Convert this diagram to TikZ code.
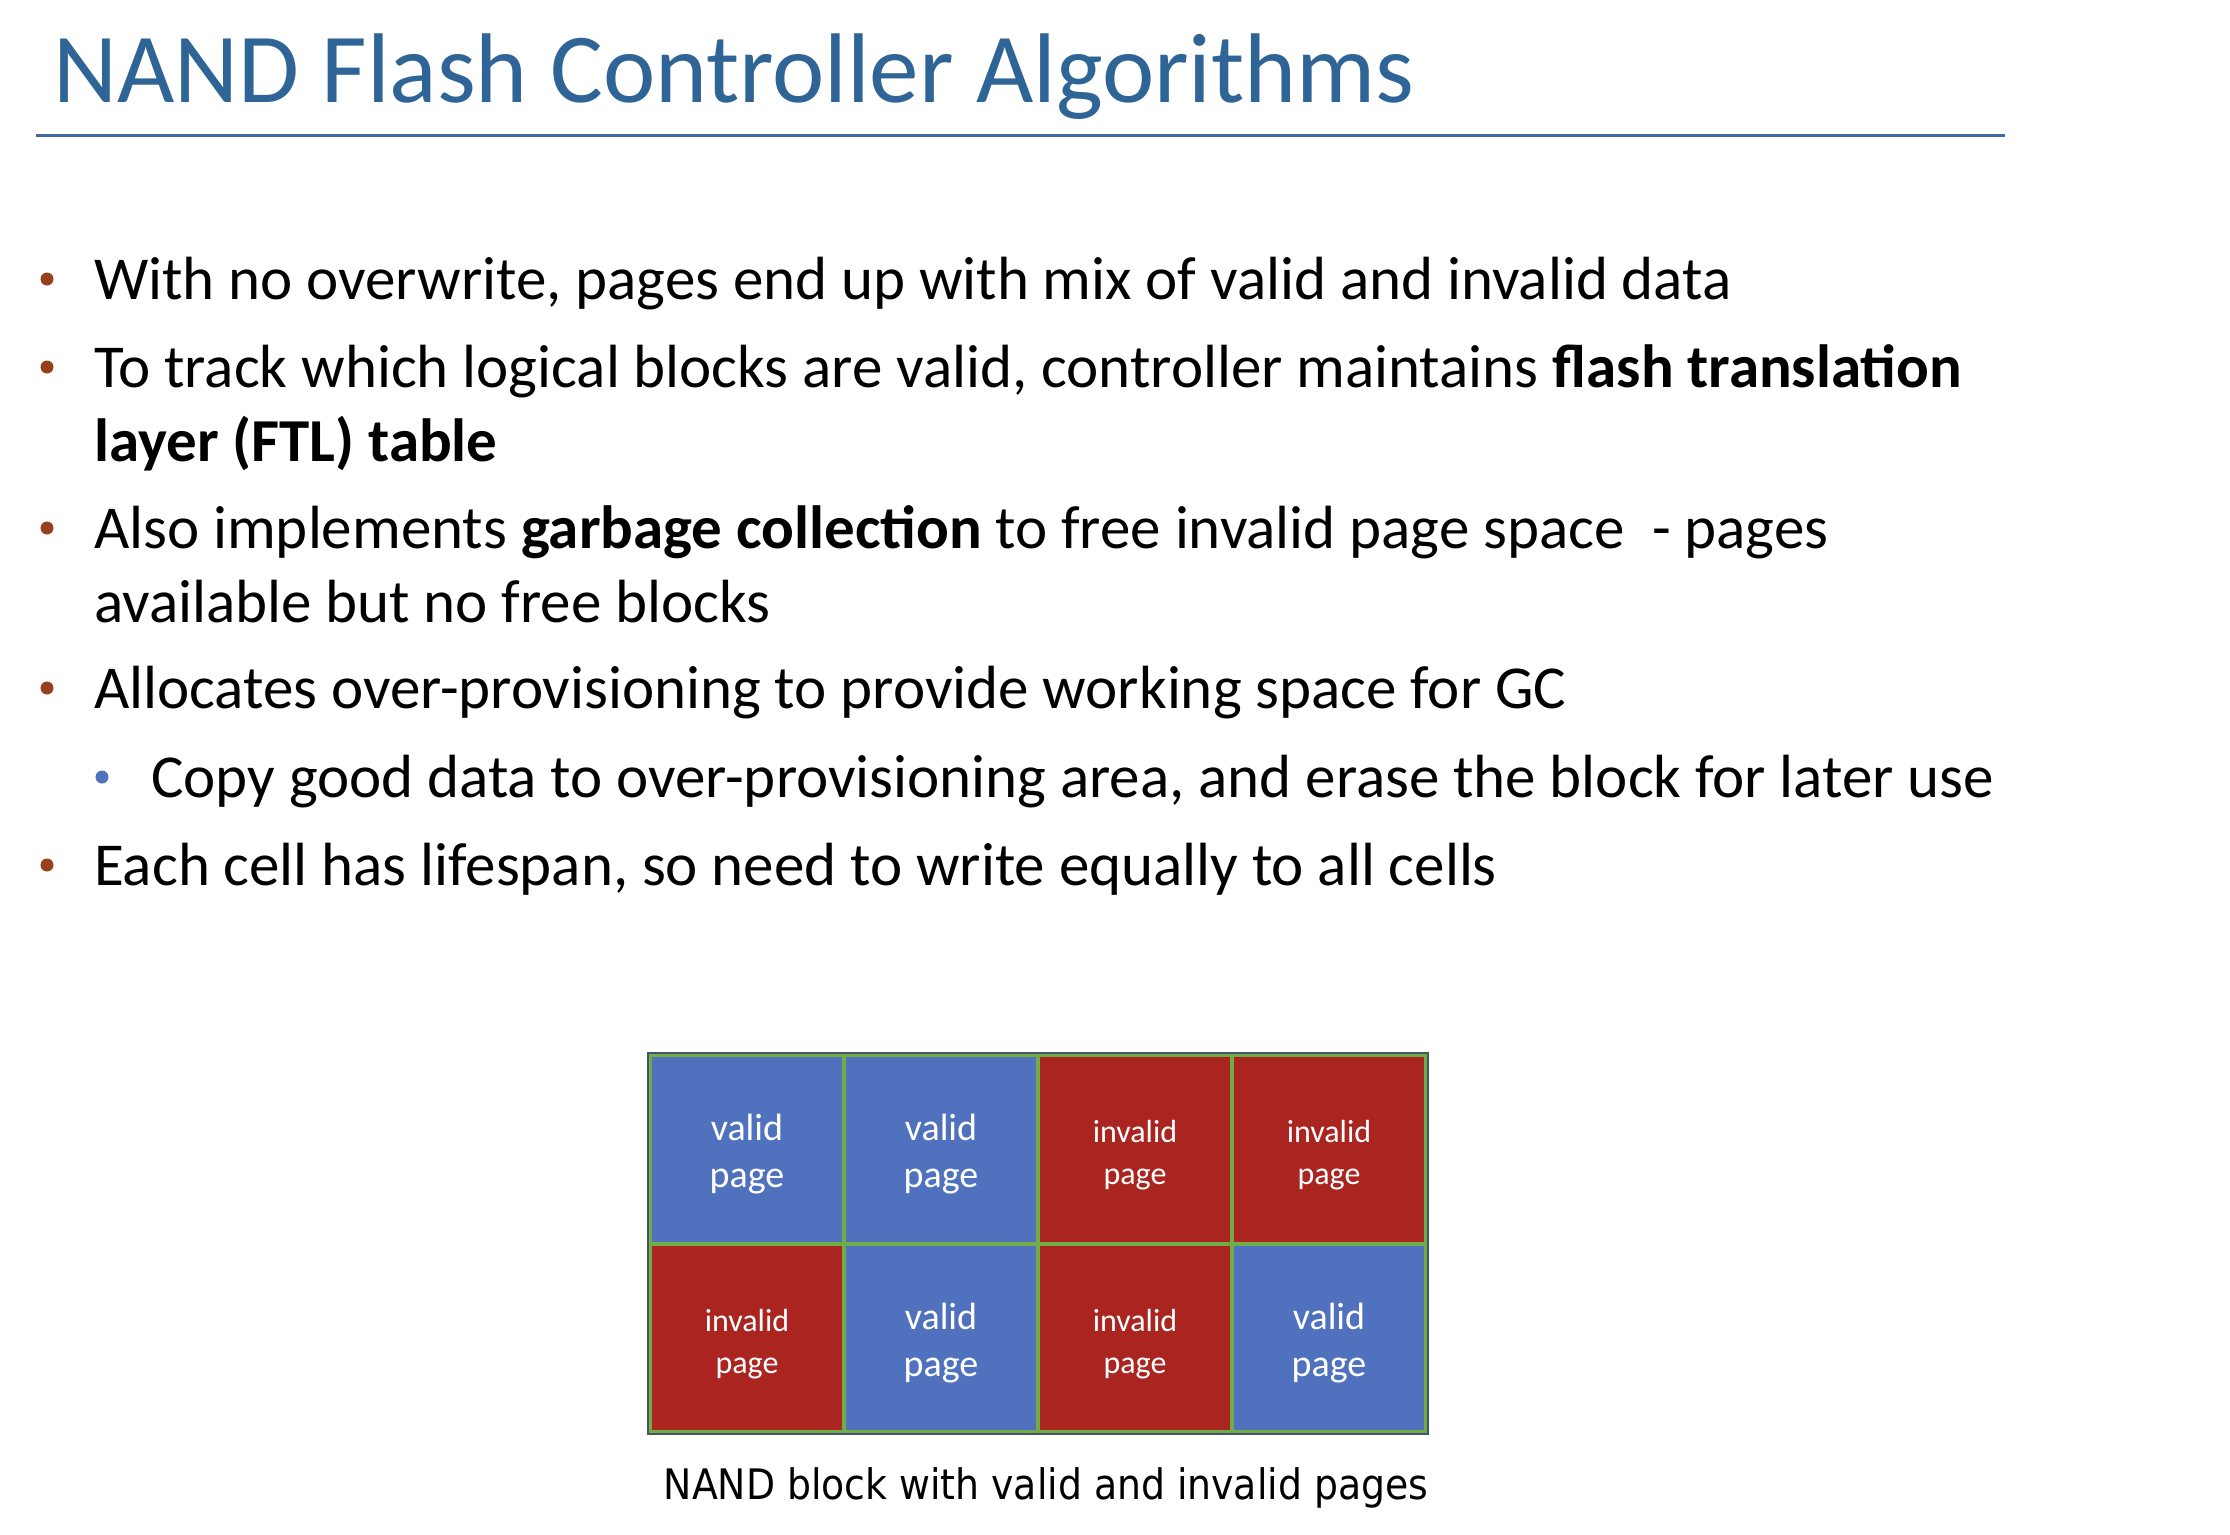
\documentclass[tikz,border=0pt]{standalone}
\usepackage{fontspec}
\setmainfont{Carlito}
\newfontfamily\capfont{DejaVu Sans Condensed}
\usetikzlibrary{positioning}

\definecolor{titleblue}{RGB}{46,100,150}
\definecolor{ruleblue}{RGB}{68,105,160}
\definecolor{bulbrown}{RGB}{150,64,28}
\definecolor{cellblue}{RGB}{80,114,190}
\definecolor{cellred}{RGB}{170,36,32}
\definecolor{cellgreen}{RGB}{112,173,71}
\definecolor{edgeblue}{RGB}{68,84,106}

\begin{document}
\begin{tikzpicture}[x=1pt, y=-1pt,
    bodyline/.style={anchor=base west, inner sep=0pt, font=\fontsize{61}{73}\selectfont},
    bul/.style={circle, fill=bulbrown, inner sep=0pt, minimum size=13pt},
    subbul/.style={circle, fill=cellblue, inner sep=0pt, minimum size=13pt},
    pagecell/.style={draw=cellgreen, line width=4pt, minimum width=194pt, minimum height=188.5pt,
      inner sep=0pt},
    validcell/.style={pagecell, fill=cellblue},
    invalidcell/.style={pagecell, fill=cellred},
    celltext/.style={text=white, align=center, inner sep=0pt},
    validtext/.style={celltext, yshift=-5pt, font=\fontsize{38}{47}\selectfont},
    invalidtext/.style={celltext, yshift=-6pt, font=\fontsize{32}{42}\selectfont}]

  \fill[white] (0,0) rectangle (2230,1534);
  \useasboundingbox (0,0) rectangle (2230,1534);

  % Title and rule
  \node[anchor=base west, inner sep=0pt, text=titleblue, font=\fontsize{99}{118}\selectfont]
    (title) at (53,102) {NAND Flash Controller Algorithms};
  \coordinate (rl) at (36,135);
  \coordinate (rr) at (2005,135);
  \draw[ruleblue, line width=3pt] (rl) -- (rr);

  % Bullets
  \node[bul] (b1) at (47,279) {};
  \node[bodyline] (l1) at (94,299) {With no overwrite, pages end up with mix of valid and invalid data};
  \node[bul] (b2) at (47,367) {};
  \node[bodyline] (l2) at (94,387) {To track which logical blocks are valid, controller maintains \textbf{flash translation}};
  \node[bodyline] (l3) at (94,461) {\textbf{layer (FTL) table}};
  \node[bul] (b3) at (47,528) {};
  \node[bodyline] (l4) at (94,548) {Also implements \textbf{garbage collection} to free invalid page space\ \ - pages};
  \node[bodyline] (l5) at (94,622) {available but no free blocks};
  \node[bul] (b4) at (47,688) {};
  \node[bodyline] (l6) at (94,708) {Allocates over-provisioning to provide working space for GC};
  \node[subbul] (s1) at (102,777) {};
  \node[bodyline] (l7) at (151,797) {Copy good data to over-provisioning area, and erase the block for later use};
  \node[bul] (b5) at (47,865) {};
  \node[bodyline] (l8) at (94,885) {Each cell has lifespan, so need to write equally to all cells};

  % NAND block
  \foreach \c/\r/\k in {1/1/valid, 2/1/valid, 3/1/invalid, 4/1/invalid,
                        1/2/invalid, 2/2/valid, 3/2/invalid, 4/2/valid} {
    \node[\k cell] (c\c\r) at ({650+(\c-0.5)*194}, {1055+(\r-0.5)*188.5}) {};
    \node[\k text] (t\c\r) at (c\c\r) {\k\\page};
  }
  \draw[edgeblue, line width=1.5pt] (c11.north west) rectangle (c42.south east);

  \node[font=\capfont\fontsize{42}{50}\selectfont, inner sep=0pt] (cap) at (1046,1488)
    {NAND block with valid and invalid pages};
\end{tikzpicture}
\end{document}
